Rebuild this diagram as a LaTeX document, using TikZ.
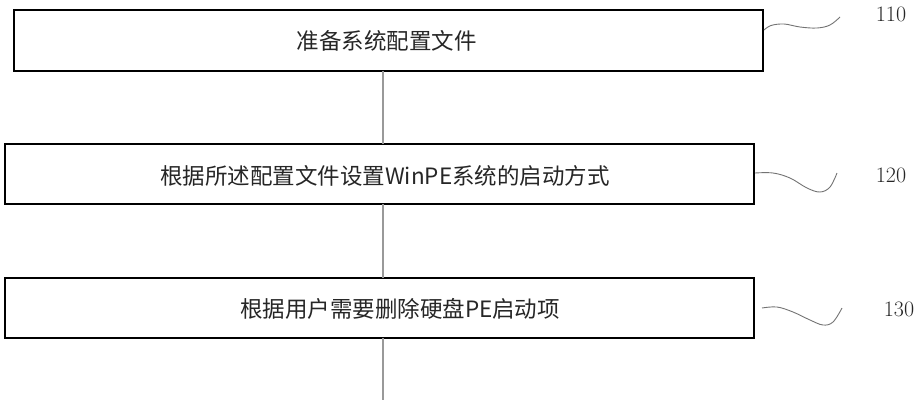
\documentclass[tikz,border=0pt]{standalone}
\usepackage{fontspec}
\newfontfamily\cjk{Noto Sans CJK SC}
\begin{document}
\begin{tikzpicture}[x=1pt,y=-1pt,
  stepbox/.style={draw=black,line width=2.2pt,minimum width=749pt,minimum height=60pt,inner sep=0pt,anchor=center},
  steptext/.style={font=\cjk\fontsize{22.5}{26}\selectfont,inner sep=0pt,text=black!85},
  numlabel/.style={font=\fontsize{22}{26}\selectfont,inner sep=0pt,text=black!85},
  flow/.style={draw=black!40,line width=1.5pt},
  leader/.style={draw=black!55,line width=0.9pt}]
\useasboundingbox (0,0) rectangle (919,400);
\node[stepbox,minimum height=61pt] (b1) at (388.5,40.5) {};
\node[stepbox] (b2) at (379.5,174) {};
\node[stepbox] (b3) at (379.5,308) {};
\node[steptext] (t1) at (386.5,41) {准备系统配置文件};
\node[steptext] (t2) at (385,176) {根据所述配置文件设置WinPE系统的启动方式};
\node[steptext] (t3) at (400,309) {根据用户需要删除硬盘PE启动项};
\coordinate (bottom) at (383,400);
\draw[flow] (383,71) -- (383,144);
\draw[flow] (383,204) -- (383,278);
\draw[flow] (383,338) -- (bottom);
\node[numlabel] (n1) at (891,14) {110};
\node[numlabel] (n2) at (891,175) {120};
\node[numlabel] (n3) at (899,309) {130};
\draw[leader] plot[smooth,tension=0.6] coordinates {(764,30) (771,25.5) (784,24) (800,27) (817,28) (830,25) (840,17)};
\draw[leader] plot[smooth,tension=0.6] coordinates {(755,173) (773,173) (790,178) (807,188) (820,192) (830,187) (837,173)};
\draw[leader] plot[smooth,tension=0.6] coordinates {(762,308) (777,307) (793,312) (810,320) (823,325) (833,322) (842,308)};
\end{tikzpicture}
\end{document}
